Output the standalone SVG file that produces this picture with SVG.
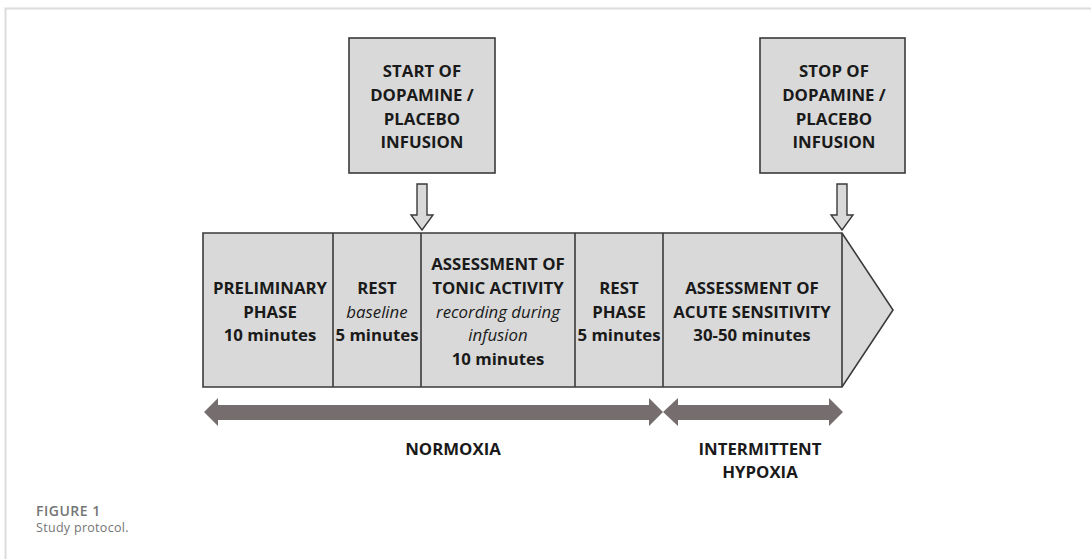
<svg xmlns="http://www.w3.org/2000/svg" width="1091" height="559" viewBox="0 0 1091 559">
<style>
.box{fill:#d9d9d9;stroke:#3a3a3a;stroke-width:1.6}
.div{stroke:#3a3a3a;stroke-width:1.6}
.t{font-family:"Open Sans","Liberation Sans",sans-serif;font-size:16.8px;font-weight:bold;fill:#1a1a1a;text-anchor:middle}
.i{font-weight:normal;font-style:italic}
.dbl{fill:#766e6e}
.ar{fill:#d9d9d9;stroke:#3a3a3a;stroke-width:1.4}
.cap{font-family:"Open Sans","Liberation Sans",sans-serif;font-size:12.5px;fill:#757575}
.fig{font-size:14px;font-weight:600;letter-spacing:0.5px}
</style>
<rect width="1091" height="559" fill="#ffffff"/>
<path d="M5.5 559 V8.5 H1091" fill="none" stroke="#dcdcdc" stroke-width="2"/>

<g id="start-box">
<rect class="box" x="349" y="38" width="146" height="135"/>
<text class="t" x="422" y="77">START OF</text>
<text class="t" x="422" y="101">DOPAMINE /</text>
<text class="t" x="422" y="125">PLACEBO</text>
<text class="t" x="422" y="148">INFUSION</text>
</g>

<g id="stop-box">
<rect class="box" x="760" y="38" width="145" height="135"/>
<text class="t" x="834" y="77">STOP OF</text>
<text class="t" x="834" y="101">DOPAMINE /</text>
<text class="t" x="834" y="125">PLACEBO</text>
<text class="t" x="834" y="148">INFUSION</text>
</g>

<g id="timeline">
<path class="box" d="M203 233 H842 L893 310 L842 387 H203 Z"/>
<line class="div" x1="333" y1="233" x2="333" y2="387"/>
<line class="div" x1="421" y1="233" x2="421" y2="387"/>
<line class="div" x1="575" y1="233" x2="575" y2="387"/>
<line class="div" x1="663" y1="233" x2="663" y2="387"/>
<line class="div" x1="842" y1="233" x2="842" y2="387"/>
</g>

<g id="preliminary">
<text class="t" x="270" y="294">PRELIMINARY</text>
<text class="t" x="270" y="318">PHASE</text>
<text class="t" x="270" y="341">10 minutes</text>
</g>
<g id="rest-baseline">
<text class="t" x="377" y="294">REST</text>
<text class="t i" x="377" y="318">baseline</text>
<text class="t" x="377" y="341">5 minutes</text>
</g>
<g id="tonic">
<text class="t" x="498" y="270">ASSESSMENT OF</text>
<text class="t" x="498" y="294">TONIC ACTIVITY</text>
<text class="t i" x="498" y="318">recording during</text>
<text class="t i" x="498" y="341">infusion</text>
<text class="t" x="498" y="365">10 minutes</text>
</g>
<g id="rest-phase">
<text class="t" x="619" y="294">REST</text>
<text class="t" x="619" y="318">PHASE</text>
<text class="t" x="619" y="341">5 minutes</text>
</g>
<g id="acute">
<text class="t" x="752" y="294">ASSESSMENT OF</text>
<text class="t" x="752" y="318">ACUTE SENSITIVITY</text>
<text class="t" x="752" y="341">30-50 minutes</text>
</g>

<g id="connectors">
<path class="ar" d="M417 184 H427 V215 H433 L422 230 L411 215 H417 Z"/>
<path class="ar" d="M837 184 H847 V215 H853 L842 230 L831 215 H837 Z"/>
<path class="dbl" d="M204 412 L218 398 V405 H649 V398 L663 412 L649 426 V420 H218 V426 Z"/>
<path class="dbl" d="M663 412 L678 398 V405 H829 V398 L843 412 L829 426 V420 H678 V426 Z"/>
</g>

<g id="labels">
<text class="t" x="453" y="455">NORMOXIA</text>
<text class="t" x="760" y="455">INTERMITTENT</text>
<text class="t" x="760" y="478">HYPOXIA</text>
</g>

<g id="caption">
<text class="cap fig" x="36" y="516">FIGURE 1</text>
<text class="cap" x="36" y="532" letter-spacing="0.3">Study protocol.</text>
</g>
</svg>
